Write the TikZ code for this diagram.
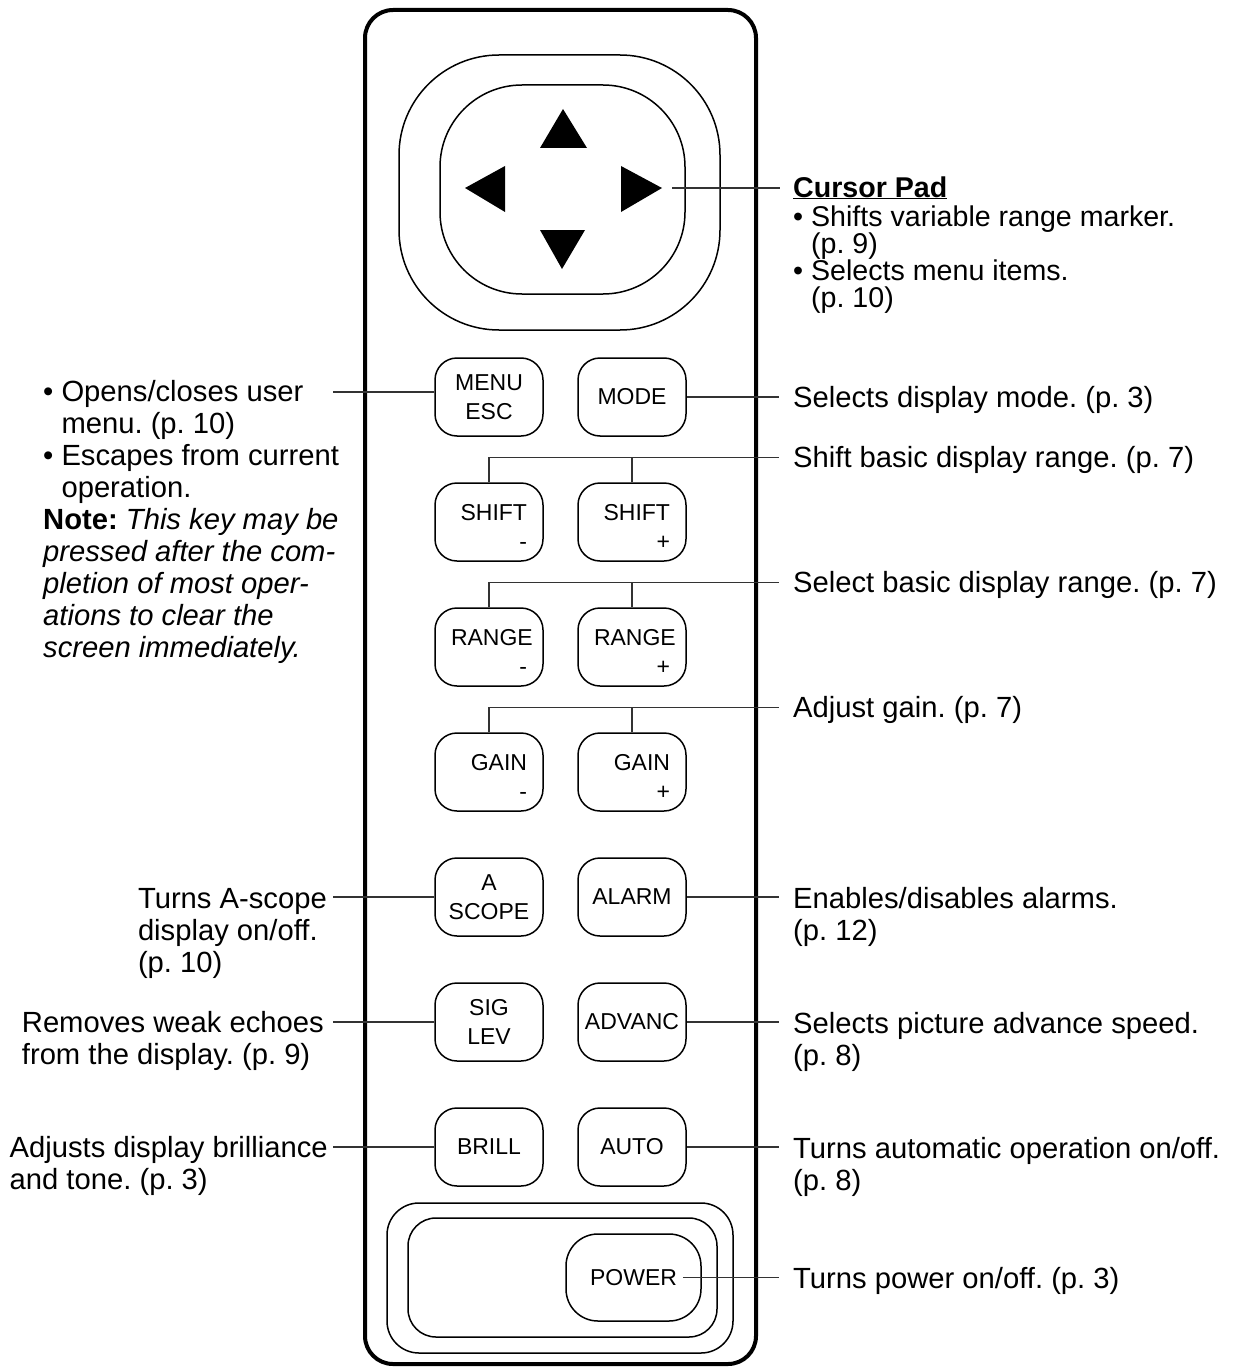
\documentclass[tikz,border=0pt]{standalone}
\usepackage{fontspec}
\setmainfont{Liberation Sans}
\usetikzlibrary{positioning}
\frenchspacing
\setlength{\lineskiplimit}{-100pt}
\newcommand{\keyfnt}{\fontsize{23}{29}\selectfont}
\newcommand{\notefnt}{\fontsize{29.2}{32}\selectfont}
\newcommand{\bul}{\textbullet\ }
\newcommand{\ind}{\hphantom{\textbullet\ }}

\begin{document}
\begin{tikzpicture}[x=1pt,y=-1pt,node distance=125pt and 143pt,on grid,
    keycap/.style={draw,line width=1.5pt,rounded corners=22pt,minimum width=108pt,
      minimum height=78pt,inner sep=0pt,align=center,font=\keyfnt},
    signkey/.style={keycap,text width=76pt,align=right,
      execute at begin node=\rule{0pt}{26pt}},
    lead/.style={draw=black!80,line width=1.2pt},
    note/.style={inner sep=0pt,align=left,anchor=base west,font=\notefnt}]
  \useasboundingbox (0,0) rectangle (1232,1367);
  %% \draw[help lines] (0,0) grid[step=100] (1232,1367);
  % housing
  \draw[line width=4pt,rounded corners=28pt] (365,10) rectangle (756,1364);
  % cursor pad
  \draw[line width=1.5pt,rounded corners=100pt] (399,55) rectangle (720,330);
  \draw[line width=1.5pt,rounded corners=82pt] (440,85) rectangle (685,294);
  \fill (540,148) -- (587,148) -- (563,109) -- cycle;
  \fill (540,230) -- (585,230) -- (562,269) -- cycle;
  \fill (505,166) -- (505,212) -- (465,188) -- cycle;
  \fill (621,166) -- (621,212) -- (662,188) -- cycle;
  % keys
  \node[keycap] (menu) at (489,397) {MENU\\ESC};
  \node[keycap] (mode) [right=of menu] {MODE};
  \node[signkey] (shiftm) [below=of menu] {SHIFT\\-};
  \node[signkey] (shiftp) [right=of shiftm] {SHIFT\\+};
  \node[signkey] (rangem) [below=of shiftm] {RANGE\\-};
  \node[signkey] (rangep) [right=of rangem] {RANGE\\+};
  \node[signkey] (gainm) [below=of rangem] {GAIN\\-};
  \node[signkey] (gainp) [right=of gainm] {GAIN\\+};
  \node[keycap] (ascope) [below=of gainm] {A\\SCOPE};
  \node[keycap] (alarm) [right=of ascope] {ALARM};
  \node[keycap] (siglev) [below=of ascope] {SIG\\LEV};
  \node[keycap] (advanc) [right=of siglev] {ADVANC};
  \node[keycap] (brill) [below=of siglev] {BRILL};
  \node[keycap] (auto) [right=of brill] {AUTO};
  % power key
  \draw[line width=1.5pt,rounded corners=32pt] (387,1203) rectangle (733,1353);
  \draw[line width=1.5pt,rounded corners=28pt] (408,1218) rectangle (717,1337);
  \node[keycap,minimum width=135pt,minimum height=87pt,rounded corners=32pt]
    (power) at (633.5,1277.5) {POWER};
  % leaders, right side
  \coordinate (rr) at (779,0);
  \coordinate (ll) at (333,0);
  \coordinate (padTip) at (672,188);
  \coordinate (ePad) at (780,188);
  \draw[lead] (padTip) -- (ePad);
  \node[note,font=\fontsize{28.6}{27}\selectfont] at ([xshift=13pt,yshift=-119pt]ePad)
    {\textbf{\underline{Cursor Pad}}\\[2pt]\bul Shifts variable range marker.\\\ind(p. 9)\\
     \bul Selects menu items.\\\ind(p. 10)};
  \draw[lead] (mode.east) -- (mode.east -| rr) coordinate (eMode);
  \node[note] at ([xshift=14pt,yshift=-10.5pt]eMode) {Selects display mode. (p. 3)};
  \draw[lead] (shiftm.north) -- ++(0,-25) coordinate (bShift) -- (bShift -| rr) coordinate (eShift);
  \draw[lead] (shiftp.north) -- (shiftp.north |- bShift);
  \node[note] at ([xshift=14pt,yshift=-10.5pt]eShift) {Shift basic display range. (p. 7)};
  \draw[lead] (rangem.north) -- ++(0,-25) coordinate (bRange) -- (bRange -| rr) coordinate (eRange);
  \draw[lead] (rangep.north) -- (rangep.north |- bRange);
  \node[note] at ([xshift=14pt,yshift=-10.5pt]eRange) {Select basic display range. (p. 7)};
  \draw[lead] (gainm.north) -- ++(0,-25) coordinate (bGain) -- (bGain -| rr) coordinate (eGain);
  \draw[lead] (gainp.north) -- (gainp.north |- bGain);
  \node[note] at ([xshift=14pt,yshift=-10.5pt]eGain) {Adjust gain. (p. 7)};
  \draw[lead] (alarm.east) -- (alarm.east -| rr) coordinate (eAlarm);
  \node[note] at ([xshift=14pt,yshift=-43pt]eAlarm) {Enables/disables alarms.\\(p. 12)};
  \draw[lead] (advanc.east) -- (advanc.east -| rr) coordinate (eAdv);
  \node[note] at ([xshift=14pt,yshift=-43pt]eAdv) {Selects picture advance speed.\\(p. 8)};
  \draw[lead] (auto.east) -- (auto.east -| rr) coordinate (eAuto);
  \node[note] at ([xshift=14pt,yshift=-43pt]eAuto) {Turns automatic operation on/off.\\(p. 8)};
  \draw[lead] ([xshift=-19pt]power.east) -- (power.east -| rr) coordinate (ePower);
  \node[note] at ([xshift=14pt,yshift=-10.5pt]ePower) {Turns power on/off. (p. 3)};
  % leaders, left side
  \draw[lead] ([yshift=5pt]menu.west) -- ([yshift=5pt]menu.west -| ll) coordinate (eMenu);
  \node[note] at (43,657) {\bul Opens/closes user\\\ind menu. (p. 10)\\\bul Escapes from current\\
    \ind operation.\\\textbf{Note:} \textit{This key may be}\\\textit{pressed after the com-}\\
    \textit{pletion of most oper-}\\\textit{ations to clear the}\\\textit{screen immediately.}};
  \draw[lead] (ascope.west) -- (ascope.west -| ll) coordinate (eAscope);
  \node[note,anchor=base east] at ([xshift=-6pt,yshift=-75pt]eAscope)
    {Turns A-scope\\display on/off.\\(p. 10)};
  \draw[lead] (siglev.west) -- (siglev.west -| ll) coordinate (eSig);
  \node[note,anchor=base east] at ([xshift=-9pt,yshift=-42pt]eSig)
    {Removes weak echoes\\from the display. (p. 9)};
  \draw[lead] (brill.west) -- (brill.west -| ll) coordinate (eBrill);
  \node[note,anchor=base east] at ([xshift=-5pt,yshift=-42pt]eBrill)
    {Adjusts display brilliance\\and tone. (p. 3)};
\end{tikzpicture}
\end{document}
